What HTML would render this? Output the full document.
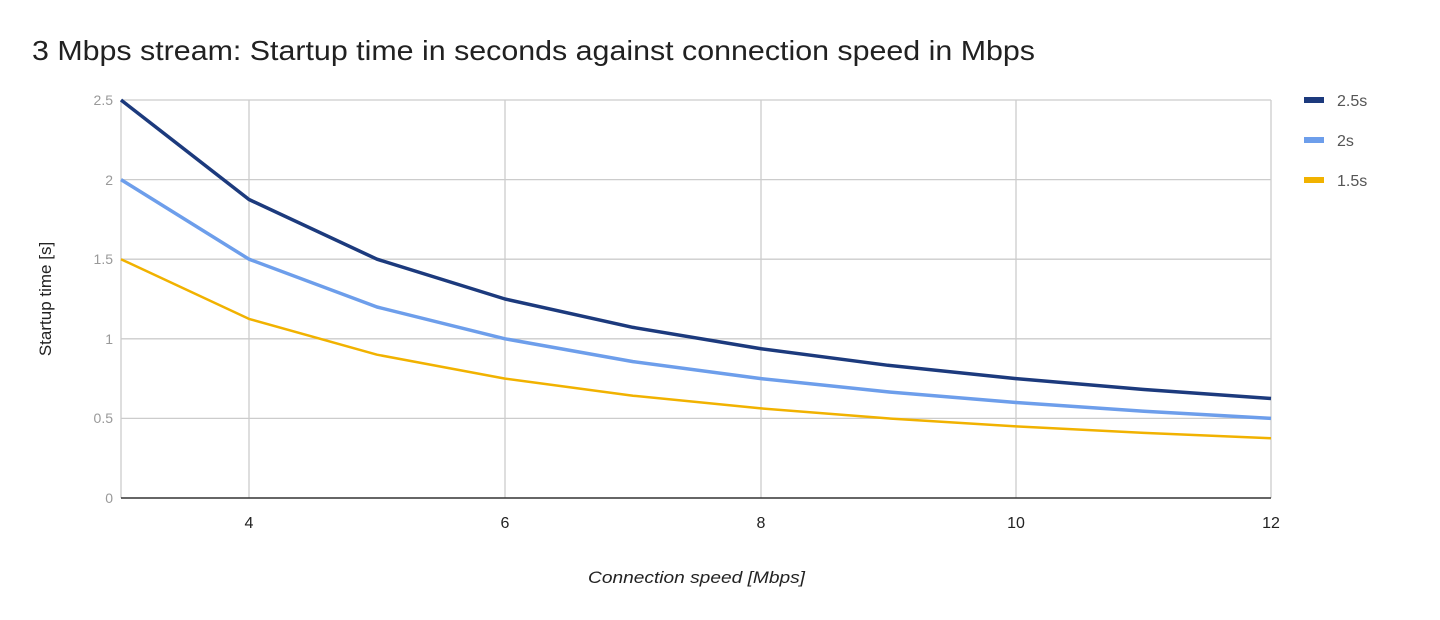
<!DOCTYPE html>
<html><head><style>body{margin:0;background:#fff}svg{display:block}</style></head><body>
<svg width="1440" height="620" xmlns="http://www.w3.org/2000/svg" font-family="Liberation Sans, sans-serif">
<text x="32" y="60" font-size="28" fill="#212121" textLength="1003" lengthAdjust="spacingAndGlyphs">3 Mbps stream: Startup time in seconds against connection speed in Mbps</text>
<g stroke="#cccccc" stroke-width="1.3">
<line x1="121" y1="100" x2="1271" y2="100"/>
<line x1="121" y1="179.6" x2="1271" y2="179.6"/>
<line x1="121" y1="259.2" x2="1271" y2="259.2"/>
<line x1="121" y1="338.8" x2="1271" y2="338.8"/>
<line x1="121" y1="418.4" x2="1271" y2="418.4"/>
<line x1="121" y1="100" x2="121" y2="498"/>
<line x1="249" y1="100" x2="249" y2="498"/>
<line x1="505" y1="100" x2="505" y2="498"/>
<line x1="761" y1="100" x2="761" y2="498"/>
<line x1="1016" y1="100" x2="1016" y2="498"/>
<line x1="1271" y1="100" x2="1271" y2="498"/>
</g>
<line x1="121" y1="498" x2="1271" y2="498" stroke="#333" stroke-width="1.5"/>
<g font-size="14" fill="#999" text-anchor="end">
<text x="113" y="105">2.5</text><text x="113" y="185">2</text><text x="113" y="264">1.5</text>
<text x="113" y="344">1</text><text x="113" y="423">0.5</text><text x="113" y="503">0</text>
</g>
<g font-size="16" fill="#222" text-anchor="middle">
<text x="249" y="528">4</text><text x="505" y="528">6</text><text x="761" y="528">8</text>
<text x="1016" y="528">10</text><text x="1271" y="528">12</text>
</g>
<text x="588" y="583" font-size="17" font-style="italic" fill="#222" textLength="217" lengthAdjust="spacingAndGlyphs">Connection speed [Mbps]</text>
<text transform="translate(51,299) rotate(-90)" font-size="17" fill="#222" text-anchor="middle">Startup time [s]</text>
<g fill="none" stroke-width="3.5" stroke-linejoin="round">
<polyline stroke="#1c3a7d" points="121,100 249,199.5 377,259.2 505,299 633,327.4 761,348.75 888,365.3 1016,378.6 1144,389.5 1271,398.5"/>
<polyline stroke="#6d9eeb" points="121,179.6 249,259.2 377,307 505,338.8 633,361.6 761,378.6 888,391.9 1016,402.5 1144,411.2 1271,418.4"/>
<polyline stroke="#f1b200" stroke-width="2.5" points="121,259.2 249,318.9 377,354.7 505,378.6 633,395.7 761,408.4 888,418.4 1016,426.4 1144,432.9 1271,438.3"/>
</g>
<rect x="1304" y="97" width="20" height="6" fill="#1c3a7d"/>
<rect x="1304" y="137" width="20" height="6" fill="#6d9eeb"/>
<rect x="1304" y="177" width="20" height="6" fill="#f1b200"/>
<g font-size="16" fill="#555">
<text x="1337" y="106">2.5s</text><text x="1337" y="146">2s</text><text x="1337" y="186">1.5s</text>
</g>
</svg>
</body></html>
